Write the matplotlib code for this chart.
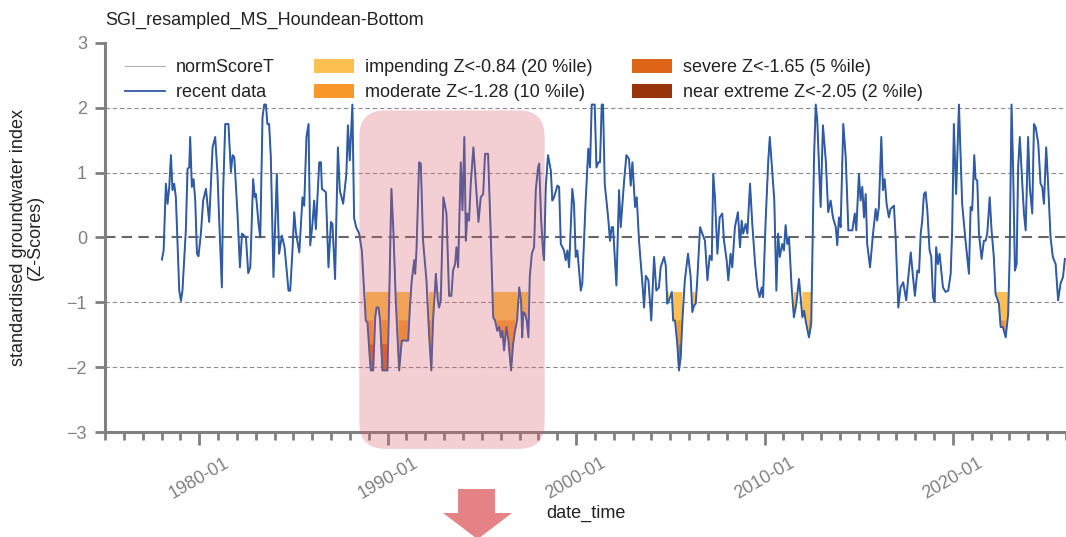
import numpy as np
import matplotlib
matplotlib.use("Agg")
import matplotlib.pyplot as plt
import matplotlib.dates as mdates
from matplotlib.patches import FancyBboxPatch, Polygon, Patch
from matplotlib.lines import Line2D
from matplotlib.transforms import IdentityTransform
from datetime import datetime, timedelta

plt.rcParams['font.family'] = ['Liberation Sans', 'DejaVu Sans']

# Standardised groundwater index (monthly, clipped to +/-2.05), dates as decimal years
decimal_year = [
    1978.02, 1978.11, 1978.23, 1978.32, 1978.41, 1978.50, 1978.58, 1978.67, 1978.76, 1978.94,
    1979.03, 1979.11, 1979.29, 1979.38, 1979.47, 1979.52, 1979.61, 1979.70, 1979.79, 1979.88,
    1979.96, 1980.09, 1980.21, 1980.36, 1980.53, 1980.71, 1980.85, 1980.97, 1981.06, 1981.20,
    1981.27, 1981.38, 1981.55, 1981.68, 1981.77, 1981.86, 1982.03, 1982.16, 1982.27, 1982.48,
    1982.60, 1982.71, 1982.86, 1982.95, 1983.01, 1983.15, 1983.24, 1983.36, 1983.45, 1983.54,
    1983.62, 1983.71, 1983.80, 1983.94, 1984.12, 1984.24, 1984.39, 1984.53, 1984.74, 1984.83,
    1984.95, 1985.04, 1985.13, 1985.31, 1985.48, 1985.57, 1985.69, 1985.80, 1985.89, 1986.01,
    1986.10, 1986.19, 1986.37, 1986.46, 1986.51, 1986.72, 1986.86, 1986.99, 1987.07, 1987.21,
    1987.36, 1987.46, 1987.64, 1987.81, 1987.89, 1987.99, 1988.13, 1988.22, 1988.33, 1988.49,
    1988.63, 1988.75, 1988.84, 1988.93, 1989.06, 1989.11, 1989.23, 1989.34, 1989.41, 1989.51,
    1989.60, 1989.72, 1989.99, 1990.08, 1990.20, 1990.31, 1990.43, 1990.61, 1990.75, 1991.09,
    1991.18, 1991.28, 1991.41, 1991.46, 1991.53, 1991.67, 1991.76, 1991.88, 1992.06, 1992.20,
    1992.32, 1992.41, 1992.56, 1992.66, 1992.73, 1992.82, 1992.96, 1993.12, 1993.26, 1993.38,
    1993.47, 1993.58, 1993.65, 1993.74, 1993.88, 1993.97, 1994.07, 1994.15, 1994.23, 1994.32,
    1994.41, 1994.55, 1994.68, 1994.82, 1994.94, 1995.07, 1995.17, 1995.33, 1995.47, 1995.60,
    1995.70, 1995.82, 1995.92, 1996.01, 1996.09, 1996.18, 1996.30, 1996.41, 1996.55, 1996.66,
    1996.76, 1996.87, 1996.98, 1997.08, 1997.14, 1997.20, 1997.29, 1997.38, 1997.47, 1997.54,
    1997.65, 1997.77, 1997.86, 1997.98, 1998.04, 1998.14, 1998.25, 1998.30, 1998.39, 1998.51,
    1998.66, 1998.74, 1998.83, 1999.01, 1999.10, 1999.19, 1999.36, 1999.45, 1999.54, 1999.63,
    1999.80, 1999.89, 1999.98, 2000.07, 2000.25, 2000.33, 2000.51, 2000.65, 2000.74, 2000.83,
    2000.99, 2001.08, 2001.18, 2001.27, 2001.36, 2001.43, 2001.52, 2001.70, 2001.80, 2001.89,
    2001.96, 2002.14, 2002.28, 2002.37, 2002.55, 2002.67, 2002.81, 2002.90, 2002.99, 2003.13,
    2003.22, 2003.34, 2003.52, 2003.61, 2003.70, 2003.84, 2003.99, 2004.14, 2004.26, 2004.40,
    2004.49, 2004.67, 2004.76, 2004.84, 2004.93, 2005.08, 2005.15, 2005.25, 2005.37, 2005.46,
    2005.55, 2005.64, 2005.77, 2005.94, 2006.08, 2006.17, 2006.26, 2006.35, 2006.43, 2006.58,
    2006.70, 2006.84, 2006.97, 2007.09, 2007.20, 2007.28, 2007.37, 2007.50, 2007.62, 2007.76,
    2007.85, 2007.99, 2008.08, 2008.20, 2008.29, 2008.43, 2008.59, 2008.70, 2008.79, 2008.87,
    2009.00, 2009.09, 2009.23, 2009.35, 2009.50, 2009.62, 2009.74, 2009.85, 2009.92, 2010.06,
    2010.20, 2010.28, 2010.41, 2010.52, 2010.63, 2010.72, 2010.81, 2010.94, 2011.03, 2011.12,
    2011.21, 2011.30, 2011.44, 2011.56, 2011.69, 2011.83, 2012.01, 2012.10, 2012.18, 2012.36,
    2012.48, 2012.63, 2012.72, 2012.80, 2012.98, 2013.10, 2013.25, 2013.38, 2013.51, 2013.63,
    2013.78, 2013.86, 2013.95, 2014.04, 2014.18, 2014.31, 2014.45, 2014.66, 2014.79, 2014.87,
    2015.01, 2015.10, 2015.19, 2015.28, 2015.37, 2015.45, 2015.60, 2015.76, 2015.90, 2015.98,
    2016.07, 2016.20, 2016.29, 2016.38, 2016.48, 2016.60, 2016.69, 2016.87, 2016.96, 2017.10,
    2017.22, 2017.36, 2017.52, 2017.63, 2017.76, 2017.88, 2017.98, 2018.11, 2018.20, 2018.29,
    2018.37, 2018.46, 2018.55, 2018.64, 2018.76, 2018.85, 2018.94, 2019.03, 2019.11, 2019.20,
    2019.29, 2019.47, 2019.61, 2019.75, 2019.88, 2019.96, 2020.05, 2020.17, 2020.32, 2020.49,
    2020.67, 2020.85, 2020.94, 2021.02, 2021.13, 2021.20, 2021.29, 2021.38, 2021.52, 2021.64,
    2021.73, 2021.82, 2021.95, 2022.05, 2022.17, 2022.26, 2022.44, 2022.53, 2022.65, 2022.80,
    2022.93, 2023.01, 2023.11, 2023.20, 2023.29, 2023.38, 2023.46, 2023.55, 2023.68, 2023.77,
    2023.86, 2023.99, 2024.08, 2024.21, 2024.30, 2024.39, 2024.53, 2024.65, 2024.74, 2024.83,
    2024.95, 2025.05, 2025.18, 2025.30, 2025.45, 2025.58, 2025.71, 2025.84, 2025.94,
]

sgi = [
    -0.34, -0.20, 0.83, 0.52, 0.78, 1.27, 0.73, 0.83, 0.62, -0.82,
    -0.98, -0.82, 0.11, 1.06, 1.08, 1.55, 0.78, 0.90, 0.57, -0.25,
    -0.29, 0.06, 0.57, 0.75, 0.24, 1.39, 1.55, 0.98, 0.26, -0.77,
    0.73, 1.75, 1.75, 1.01, 1.27, 1.24, 0.37, -0.46, 0.06, 0.00,
    -0.55, -0.46, 0.90, 0.62, 0.67, 0.21, 0.00, 1.86, 2.05, 2.05,
    1.75, 1.75, 1.24, -0.61, 0.98, -0.25, 0.03, -0.15, -0.82, -0.82,
    -0.20, 0.39, 0.08, -0.23, 0.62, 0.49, 1.55, 1.75, -0.12, 0.21,
    0.57, 0.13, 1.16, 1.16, 0.75, 0.70, -0.46, 0.24, 0.21, -0.64,
    1.39, 0.73, 0.52, 0.98, 1.73, 1.19, 2.05, 0.30, 0.16, 0.06,
    -0.20, -0.82, -1.28, -1.31, -1.90, -2.05, -2.05, -1.23, -1.08, -1.08,
    -1.28, -2.05, -2.05, -0.97, 0.75, 0.06, -0.97, -2.05, -1.59, -1.59,
    -1.08, -0.66, -0.35, -0.56, -0.20, 1.16, 1.14, -0.05, -0.66, -1.49,
    -2.05, -1.28, -0.56, -0.97, -1.08, -0.97, 0.62, 0.37, -0.90, -0.90,
    -0.51, -0.41, -0.15, -0.46, 1.16, 0.42, 1.55, -0.05, 0.37, 0.26,
    0.83, 1.39, 0.83, 0.24, 0.62, 0.67, 1.29, 1.29, 0.06, -1.23,
    -1.28, -1.44, -1.38, -1.54, -1.44, -1.74, -1.38, -1.59, -2.05, -1.64,
    -1.44, -1.28, -0.77, -0.97, -1.54, -1.15, -1.18, -1.28, -1.54, -0.61,
    -0.25, -0.15, 0.73, 1.08, 1.14, 0.31, -0.25, -0.35, 0.78, 1.27,
    1.03, 0.57, 0.62, 0.80, 0.78, -0.10, -0.20, -0.35, -0.20, -0.46,
    0.75, 0.52, -0.30, -0.20, -0.82, -0.71, 0.57, 1.37, 1.08, 2.05,
    2.05, 1.08, 1.16, 1.16, 2.05, 2.05, 0.83, 0.31, -0.05, 0.16,
    0.16, -0.74, 0.73, 0.16, 0.88, 1.27, 1.21, 0.80, 1.16, 0.47,
    0.62, -0.05, -0.71, -1.08, -0.59, -0.66, -1.28, -0.30, -0.82, -0.77,
    -0.46, -0.30, -0.43, -1.02, -0.97, -0.84, -1.28, -1.28, -1.64, -2.05,
    -1.85, -1.28, -0.66, -0.25, -0.61, -1.15, -1.05, -1.02, -0.66, 0.16,
    0.06, -0.05, -0.66, -0.28, -0.35, 0.98, 0.62, -0.25, 0.31, 0.37,
    -0.05, -0.35, -0.66, -0.25, -0.46, 0.16, 0.39, -0.15, 0.26, 0.06,
    0.21, 0.06, 0.83, 0.21, -0.41, -0.77, -0.92, -0.77, -0.92, 0.26,
    1.19, 1.55, 1.03, 0.57, -0.82, 0.06, -0.30, -0.10, -0.20, 0.19,
    -0.10, 0.00, -0.77, -1.23, -1.02, -0.64, -1.23, -1.13, -1.28, -1.54,
    -1.33, 1.24, 2.05, 1.81, 0.47, 1.73, 1.19, 0.39, 0.57, 0.31,
    0.16, -0.12, 0.31, 0.16, 1.75, 1.24, 0.11, 0.11, 0.37, 0.11,
    0.98, 0.57, 0.78, 0.31, 0.67, -0.10, -0.46, 0.06, 0.44, 0.26,
    0.47, 1.55, 0.73, 0.90, 0.52, 0.31, 0.44, 0.49, 0.00, -1.08,
    -0.77, -0.69, -0.97, -0.61, -0.23, -0.61, -0.90, -0.51, -0.54, 0.06,
    0.26, 0.67, 0.70, 0.42, -0.20, -0.30, -0.92, -1.00, -0.15, -0.41,
    -0.25, -0.77, -0.84, -0.82, -0.56, 0.11, 1.75, 0.67, 2.05, 0.52,
    -0.05, -0.56, 0.47, 0.42, 1.27, 0.90, 0.88, 0.06, -0.33, -0.05,
    -0.05, 0.06, 0.62, 0.11, -0.30, -0.87, -1.02, -1.38, -1.38, -1.54,
    -1.18, -0.30, 2.05, 0.98, -0.51, -0.41, 1.08, 1.55, 0.83, 0.37,
    0.11, 1.55, 0.78, 0.37, 1.75, 1.70, 1.45, 0.83, 0.78, 0.52,
    1.39, 0.83, 0.00, -0.30, -0.41, -0.97, -0.71, -0.61, -0.33,
]

# Drought categories
thresholds = [-0.84, -1.28, -1.65, -2.05]
threshold_labels = [
    "impending Z<-0.84 (20 %ile)",
    "moderate Z<-1.28 (10 %ile)",
    "severe Z<-1.65 (5 %ile)",
    "near extreme Z<-2.05 (2 %ile)",
]
threshold_colors = ["#FDC050", "#F8982B", "#DE6418", "#983409"]

# Highlighted drought period (decimal years, z range)
highlight_years = (1988.50, 1998.33)
highlight_z = (-3.26, 1.96)


def to_date(y):
    yr = int(np.floor(y))
    return datetime(yr, 1, 1) + timedelta(days=(y - yr) * 365.25)


dates = [to_date(y) for y in decimal_year]
values = np.array(sgi)

fig = plt.figure(figsize=(10.66, 5.37), dpi=100)
ax = fig.add_axes([0.0985, 0.1955, 0.9015, 0.7245])

grey = "#808080"

for level in (-2, -1, 1, 2):
    ax.axhline(level, color="#8c8c8c", lw=0.8, ls=(0, (4, 2.5)), zorder=1)
ax.axhline(0, color="#666666", lw=1.5, ls=(0, (5, 3)), zorder=1)

for thr, col, lab in zip(thresholds, threshold_colors, threshold_labels):
    ax.fill_between(dates, values, thr, where=values < thr, color=col,
                    lw=0, zorder=2)

ax.plot(dates, values, color="#b0b0b0", lw=0.8, zorder=3)
ax.plot(dates, values, color="#2f5ba6", lw=1.4, zorder=4)

ax.set_xlim(to_date(1975.0), to_date(2026.0))
ax.set_ylim(-3, 3)
ax.set_yticks([-3, -2, -1, 0, 1, 2, 3])

ax.xaxis.set_major_locator(mdates.YearLocator(10))
ax.xaxis.set_minor_locator(mdates.YearLocator(1))
ax.xaxis.set_major_formatter(mdates.DateFormatter("%Y-%m"))

for side in ("top", "right"):
    ax.spines[side].set_visible(False)
for side in ("left", "bottom"):
    ax.spines[side].set_color(grey)
    ax.spines[side].set_linewidth(2.2)

ax.tick_params(axis="both", which="both", colors=grey, labelcolor=grey,
               labelsize=13, width=2)
ax.tick_params(axis="y", which="major", length=7, pad=6)
ax.tick_params(axis="x", which="major", length=9, pad=7, labelrotation=30)
ax.tick_params(axis="x", which="minor", length=6)
for lbl in ax.get_xticklabels():
    lbl.set_ha("center")

ax.set_ylabel("standardised groundwater index\n(Z-Scores)", fontsize=13,
              color="#222222", linespacing=1.05, labelpad=16)
ax.set_xlabel("date_time", fontsize=13, color="#222222", labelpad=2)
ax.set_title("SGI_resampled_MS_Houndean-Bottom", loc="left", fontsize=13,
             color="#222222", pad=13)

handles = [
    Line2D([], [], color="#b0b0b0", lw=0.8),
    Line2D([], [], color="#2f5ba6", lw=1.3),
]
handles += [Patch(facecolor=c, edgecolor="none") for c in threshold_colors]
labels = ["normScoreT", "recent data"] + threshold_labels
fig.legend(handles, labels, ncol=3, loc="upper left",
           bbox_to_anchor=(0.109, 0.907), frameon=False, fontsize=13,
           handlelength=2.2, handleheight=0.8, handletextpad=0.6,
           columnspacing=2.2, labelspacing=0.45, borderpad=0,
           labelcolor="#222222")

# Rounded highlight over the drought period, drawn in pixel space
x0, y0 = ax.transData.transform((mdates.date2num(to_date(highlight_years[0])), highlight_z[0]))
x1, y1 = ax.transData.transform((mdates.date2num(to_date(highlight_years[1])), highlight_z[1]))
box = FancyBboxPatch((x0, y0), x1 - x0, y1 - y0,
                     boxstyle="round,pad=0,rounding_size=26",
                     transform=IdentityTransform(), facecolor="#d95d6a",
                     edgecolor="none", alpha=0.3, zorder=10)
fig.add_artist(box)

# Downward block arrow under the highlight
arrow_pts = [(0.4297, 0.0894), (0.4644, 0.0894), (0.4644, 0.0447),
             (0.4803, 0.0447), (0.4480, -0.004), (0.4156, 0.0447),
             (0.4297, 0.0447)]
fig.add_artist(Polygon(arrow_pts, closed=True, transform=fig.transFigure,
                       facecolor="#E48286", edgecolor="none", zorder=10))

fig.savefig("out.png", dpi=100)
